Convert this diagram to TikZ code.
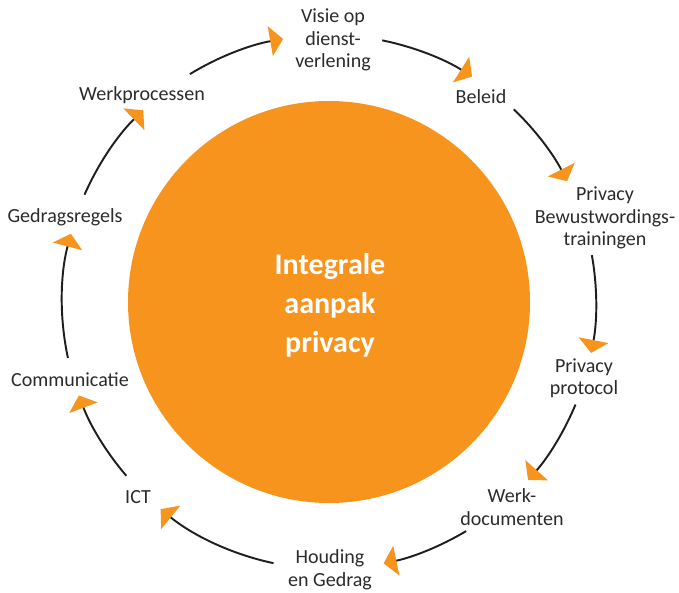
\documentclass[tikz,border=0pt]{standalone}
\usepackage{fontspec}
\setmainfont{Carlito}
\usepackage{tikz}
\usetikzlibrary{arrows.meta,positioning}
\definecolor{prorange}{HTML}{F7941D}
\definecolor{textgray}{HTML}{2B2B2B}
\definecolor{linegray}{HTML}{1E1E1E}

\begin{document}
\begin{tikzpicture}[
font=\fontsize{11.4}{12.8}\selectfont,
step label/.style={align=center, text=textgray, inner sep=1pt},
cycle/.style={line width=1.1pt, draw=linegray, -{Triangle[length=0.26cm,width=0.6cm,color=prorange]}}
]
	\useasboundingbox (-6.58,-5.80) rectangle (7.00,6.04);

	% Centre circle
	\fill[prorange] (0,0) circle (4.02);
	\node (centre) [align=center, text=white, font=\bfseries\fontsize{17.1}{22.2}\selectfont] at (0.02,-0.06)
		{Integrale\\aanpak\\privacy};

	% Steps round the circle
	\node (visie) [step label] at (0.08,5.24) {Visie op\\dienst-\\verlening};
	\node (beleid) [step label] at (3.04,4.10) {Beleid};
	\node (training) [step label] at (5.52,1.68) {Privacy\\Bewustwordings-\\trainingen};
	\node (protocol) [step label] at (5.10,-1.52) {Privacy\\protocol};
	\node (werkdoc) [step label] at (3.66,-4.10) {Werk-\\documenten};
	\node (houding) [step label] at (0.02,-5.36) {Houding\\en Gedrag};
	\node (ict) [step label] at (-3.82,-3.90) {ICT};
	\node (comm) [step label] at (-5.18,-1.56) {Communicatie};
	\node (regels) [step label] at (-5.28,1.70) {Gedragsregels};
	\node (proces) [step label] at (-3.74,4.14) {Werkprocessen};

	\draw
	(78.5:5.34) coordinate (A1)
	(46.2:5.34) coordinate (A2)
	(10.1:5.34) coordinate (A3)
	(-22.6:5.34) coordinate (A4)
	(-59.1:5.34) coordinate (A5)
	(-102.0:5.34) coordinate (A6)
	(-139.4:5.34) coordinate (A7)
	(-167.9:5.34) coordinate (A8)
	(156.3:5.34) coordinate (A9)
	(121.4:5.34) coordinate (A10);

	% Arcs between the steps
	\draw[cycle] (A1) arc[start angle=78.5, end angle=57.6, radius=5.34];
	\draw[cycle] (A2) arc[start angle=46.2, end angle=26.9, radius=5.34];
	\draw[cycle] (A3) arc[start angle=10.1, end angle=-11.0, radius=5.34];
	\draw[cycle] (A4) arc[start angle=-22.6, end angle=-41.8, radius=5.34];
	\draw[cycle] (A5) arc[start angle=-59.1, end angle=-78.2, radius=5.34];
	\draw[cycle] (A6) arc[start angle=-102.0, end angle=-129.1, radius=5.34];
	\draw[cycle] (A7) arc[start angle=-139.4, end angle=-159.5, radius=5.34];
	\draw[cycle] (A8) arc[start angle=-167.9, end angle=-194.8, radius=5.34];
	\draw[cycle] (A9) arc[start angle=156.3, end angle=134.1, radius=5.34];
	\draw[cycle] (A10) arc[start angle=121.4, end angle=99.9, radius=5.34];

\end{tikzpicture}
\end{document}
